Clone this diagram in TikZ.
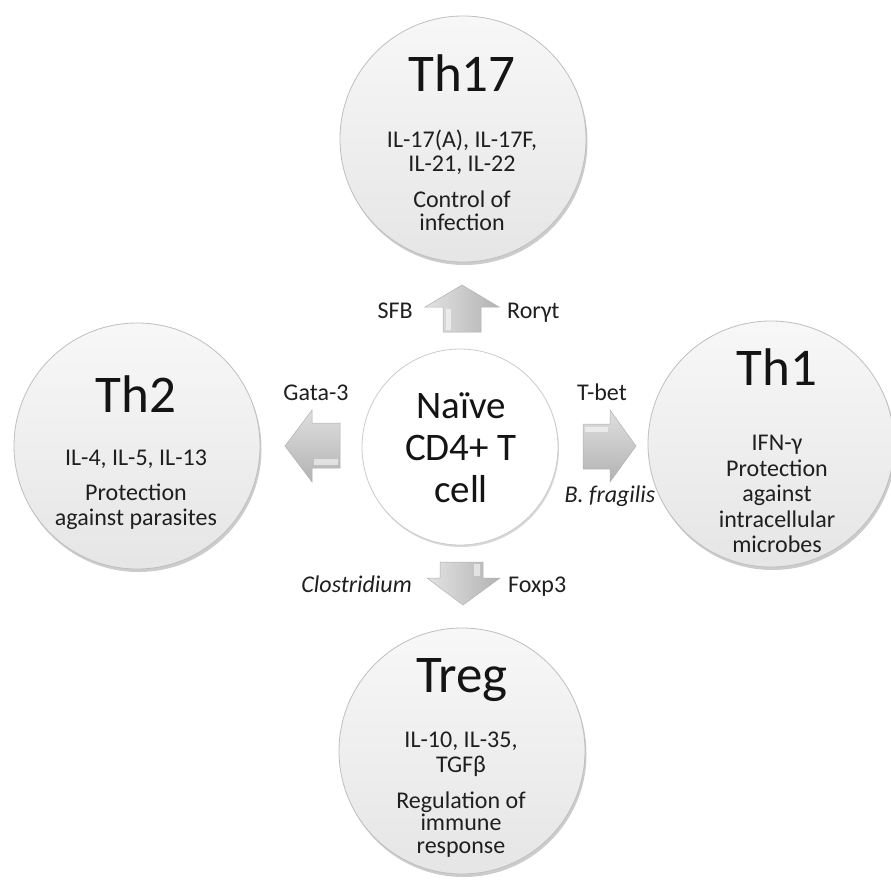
\documentclass[tikz,border=0pt]{standalone}
\usepackage{fontspec}
\setmainfont{Carlito}
\usetikzlibrary{shadows}
\begin{document}
\begin{tikzpicture}[x=1pt,y=-1pt,
  cell/.style={circle, minimum size=246pt, inner sep=0pt, draw=gray!50, line width=0.8pt,
    top color=gray!6, bottom color=gray!20,
    drop shadow={opacity=0.4, shadow xshift=1.5pt, shadow yshift=-3pt}},
  naive/.style={circle, minimum size=196pt, inner sep=0pt, draw=gray!40, line width=0.8pt, fill=white,
    drop shadow={opacity=0.3, shadow xshift=1pt, shadow yshift=-2pt}},
  title/.style={anchor=base, inner sep=0pt, text=black!92, font=\fontsize{53}{60}\selectfont},
  body/.style={anchor=base, inner sep=0pt, text=black!88, font=\fontsize{24}{25}\selectfont},
  big/.style={anchor=base, inner sep=0pt, text=black!92, font=\fontsize{39}{42}\selectfont},
  lab/.style={inner sep=0pt, text=black!88, font=\fontsize{24}{25}\selectfont},
  blockv/.style={draw=gray!60, line width=0.5pt, left color=gray!22, right color=gray!60},
  blockh/.style={draw=gray!60, line width=0.5pt, top color=gray!25, bottom color=gray!60},
  shine/.style={fill=white, opacity=0.55}]
\useasboundingbox[fill=white] (0,0) rectangle (891,880);

% circles
\node[cell] (th17) at (463,139) {};
\node[cell] (th2) at (137,446) {};
\node[cell] (th1) at (771,444) {};
\node[cell] (treg) at (462,751) {};
\node[naive] (naive) at (460,447) {};

% block arrows
\path[blockv] (462,285) -- (499,307) -- (481,307) -- (481,332) -- (443,332) -- (443,307) -- (425,307) -- cycle;
\path[shine] (446,309) rectangle (451,330);
\path[blockv] (463,605) -- (427,578) -- (440,578) -- (440,562) -- (483,562) -- (483,578) -- (500,578) -- cycle;
\path[shine] (474,564) rectangle (480,576);
\path[blockh] (285,446) -- (312,410) -- (312,423) -- (340,423) -- (340,468) -- (312,468) -- (312,482) -- cycle;
\path[shine] (314,459) rectangle (338,465);
\path[blockh] (636,446) -- (610,482) -- (610,469) -- (583,469) -- (583,424) -- (610,424) -- (610,410) -- cycle;
\path[shine] (585,427) rectangle (608,432);

% Th17
\node[title] (th17t) at (462,92) {Th17};
\node[body] (th17a) at (462,147) {IL-17(A), IL-17F,};
\node[body] (th17b) at (462,171) {IL-21, IL-22};
\node[body] (th17c) at (462,207) {Control of};
\node[body] (th17d) at (462,230) {infection};

% Th2
\node[title] (th2t) at (136,412) {Th2};
\node[body] (th2a) at (136,465) {IL-4, IL-5, IL-13};
\node[body] (th2b) at (136,500) {Protection};
\node[body] (th2c) at (136,525) {against parasites};

% Th1
\node[title] (th1t) at (777,385) {Th1};
\node[body] (th1a) at (777,450) {IFN-γ};
\node[body] (th1b) at (777,476) {Protection};
\node[body] (th1c) at (777,501) {against};
\node[body] (th1d) at (777,527) {intracellular};
\node[body] (th1e) at (777,552) {microbes};

% Treg
\node[title] (tregt) at (462,692) {Treg};
\node[body] (trega) at (461,747) {IL-10, IL-35,};
\node[body] (tregb) at (461,772) {TGFβ};
\node[body] (tregc) at (461,808) {Regulation of};
\node[body] (tregd) at (461,830) {immune};
\node[body] (trege) at (461,853) {response};

% naive
\node[big] (na) at (461,418) {Naïve};
\node[big] (nb) at (461,460) {CD4+ T};
\node[big] (nc) at (461,502) {cell};

% labels
\node[lab, anchor=base east] (sfb) at (413,318) {SFB};
\node[lab, anchor=base west] (ror) at (507,318) {Rorγt};
\node[lab, anchor=base] (gata) at (316,400) {Gata-3};
\node[lab, anchor=base] (tbet) at (602,400) {T-bet};
\node[lab, anchor=base] (bfr) at (610,502) {\itshape B. fragilis};
\node[lab, anchor=base east] (clo) at (412,592) {\itshape Clostridium};
\node[lab, anchor=base west] (fox) at (508,592) {Foxp3};
\end{tikzpicture}
\end{document}
